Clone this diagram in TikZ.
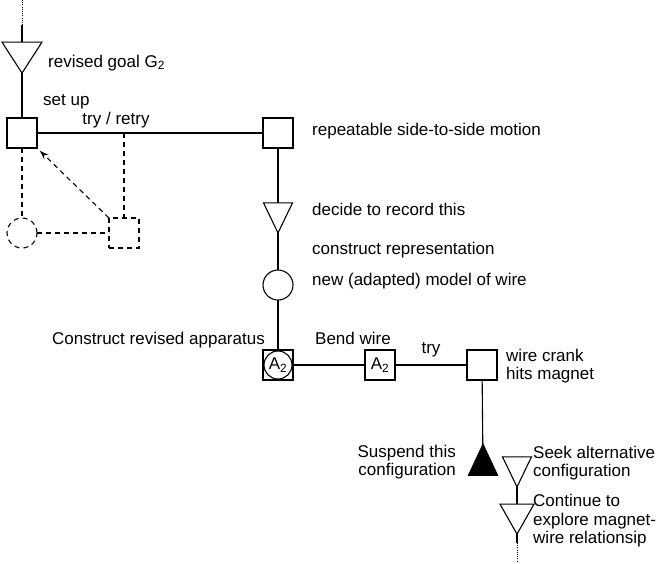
\documentclass[tikz,border=0pt]{standalone}
\usepackage{fontspec}
\setmainfont{Liberation Sans}
\usetikzlibrary{arrows.meta, shapes.geometric}

\begin{document}
\begin{tikzpicture}[
  x=1pt, y=-1pt,
  box/.style ={rectangle, draw, line width=1.1pt,
               minimum size=30pt, inner sep=0pt, outer sep=0pt,
               font=\fontsize{17}{18}\selectfont},
  goal/.style={isosceles triangle, isosceles triangle stretches,
               draw, line width=1.1pt, rotate=-90,
               minimum width=29pt, minimum height=30pt,
               inner sep=0pt, outer sep=0pt},
  halt/.style={goal, rotate=180, fill=black},
  circ/.style={circle, draw, line width=1.1pt,
               minimum size=30pt, inner sep=0pt, outer sep=0pt,
               font=\fontsize{17}{18}\selectfont},
  lab/.style ={inner sep=0pt, align=left,
               font=\fontsize{17}{18.5}\selectfont},
  ln/.style  ={line width=1.1pt},
  dsh/.style ={line width=1.1pt, dash pattern=on 5pt off 4pt},
  dot/.style ={line width=0.9pt, dash pattern=on 1pt off 1.2pt},
]
\useasboundingbox (0,0) rectangle (661,563);

%% ═══ Arriba: objetivo revisado ═══
\coordinate (Top)  at (22,0);
\coordinate (TopS) at (22,25);
\node[goal, minimum width=40pt, minimum height=31pt] (T1) at (22,53) {};
\node[lab, anchor=west] (LT1) at (48,63) {revised goal G\textsubscript{2}};
\node[lab, anchor=west] (LSU) at (43,102) {set up};

\node[box] (B1) at (22,133) {};
\node[box] (B2) at (278,133) {};
\coordinate (J) at (124,133);
\node[lab] (LTR) at (116,120) {try / retry};
\node[lab, anchor=west] (LB2) at (312,131) {repeatable side-to-side motion};

\draw[dot] (Top) -- (TopS);
\draw[ln] (TopS) -- (T1);
\draw[ln] (T1) -- (B1);
\draw[ln] (B1) -- (B2);

%% ═══ Ciclo punteado ═══
\node[circ, dsh] (DC) at (22,233) {};
\node[box, dsh]  (DB) at (124,233) {};

\draw[dsh] (B1) -- (DC);
\draw[dsh] (J) -- (DB);
\draw[dsh] (DC) -- (DB);
\draw[dsh, -{Stealth[length=9pt, width=6pt]}, shorten >=4pt]
  (DB.north west) -- (B1.south east);

%% ═══ Columna central ═══
\node[goal] (T2) at (278,212) {};
\node[lab, anchor=west] (LT2) at (312,209) {decide to record this};
\node[lab, anchor=west] (LCR) at (312,250) {construct representation};
\node[circ] (C1) at (278,285) {};
\node[lab, anchor=west] (LC1) at (312,281) {new (adapted) model of wire};

\draw[ln] (B2) -- (T2);
\draw[ln] (T2) -- (C1);

%% ═══ Fila de aparatos ═══
\node[box] (B3) at (278,365) {};
\node[circ, minimum size=28pt] (C3) at (B3) {A\textsubscript{2}};
\node[lab, anchor=east] (LB3) at (265,340) {Construct revised apparatus};
\node[box] (B4) at (380,365) {A\textsubscript{2}};
\node[lab, anchor=west] (LB4) at (315,338) {Bend wire};
\node[lab] (LTY) at (431,350) {try};
\node[box] (B5) at (482,365) {};
\node[lab, anchor=west] (LB5) at (506,366) {wire crank\\hits magnet};

\draw[ln] (C1) -- (B3);
\draw[ln] (C3) -- (B4);
\draw[ln] (B4) -- (B5);

%% ═══ Abajo: alternativas ═══
\node[halt, minimum width=29pt, minimum height=31pt] (F1) at (483,466) {};
\node[lab, anchor=east, align=right] (LF1) at (456,462) {Suspend this\\configuration};
\node[goal] (T3) at (517,466) {};
\node[lab, anchor=west] (LT3) at (533,463) {Seek alternative\\configuration};
\node[goal, minimum width=34pt] (T4) at (517,514) {};
\node[lab, anchor=west] (LT4) at (533,521) {Continue to\\explore magnet-\\wire relationsip};
\coordinate (BotS) at (517,543);
\coordinate (Bot)  at (517,561);

\draw[ln] (B5) -- (F1);
\draw[ln] (T3) -- (T4);
\draw[ln] (T4) -- (BotS);
\draw[dot] (BotS) -- (Bot);

\end{tikzpicture}
\end{document}
